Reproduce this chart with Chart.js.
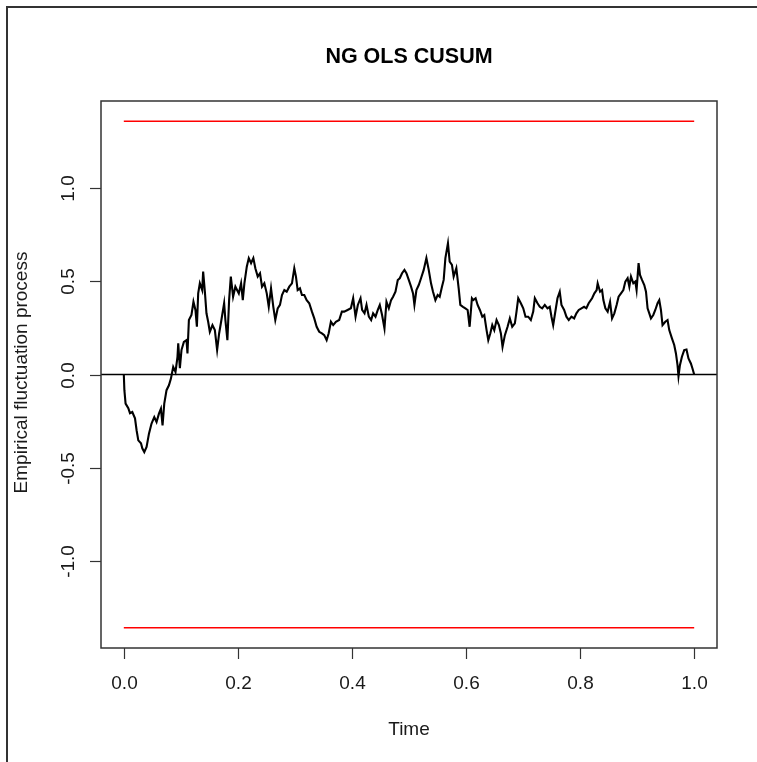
<!DOCTYPE html>
<html>
<head>
<meta charset="utf-8">
<title>NG OLS CUSUM</title>
<script src="https://cdn.jsdelivr.net/npm/chart.js@4/dist/chart.umd.min.js"></script>
<style>
  html, body { margin: 0; padding: 0; background: #ffffff; }
  #wrap { width: 757px; height: 762px; position: relative; }
</style>
</head>
<body>
<div id="wrap"><canvas id="c" width="757" height="762"></canvas></div>
<script>
// OLS-based CUSUM empirical fluctuation process (time scaled to [0, 1])
const timePoints = [
  0.000, 0.001, 0.0031, 0.0079, 0.0108, 0.0149, 0.0196, 0.0224, 0.0254, 0.0301,
  0.0324, 0.0359, 0.0399, 0.0441, 0.0486, 0.0534, 0.0574, 0.0616, 0.0651, 0.0679,
  0.0709, 0.0749, 0.0791, 0.0826, 0.0866, 0.0906, 0.0941, 0.0954, 0.0983, 0.1011,
  0.1053, 0.1099, 0.1116, 0.1141, 0.1186, 0.1221, 0.1256, 0.1281, 0.1304, 0.1333,
  0.1374, 0.1391, 0.1421, 0.1449, 0.1479, 0.1508, 0.1554, 0.1596, 0.1636, 0.1671,
  0.1711, 0.1759, 0.1781, 0.1816, 0.1846, 0.1876, 0.1916, 0.1956, 0.2016, 0.2056,
  0.2086, 0.2114, 0.2156, 0.2191, 0.2231, 0.2271, 0.2306, 0.2348, 0.2388, 0.2423,
  0.2464, 0.2506, 0.2541, 0.2581, 0.2621, 0.2656, 0.2698, 0.2738, 0.2773, 0.2814,
  0.2856, 0.2901, 0.2948, 0.2989, 0.3018, 0.3048, 0.3088, 0.3123, 0.3164, 0.3206,
  0.3251, 0.3298, 0.3339, 0.3381, 0.3426, 0.3473, 0.3514, 0.3556, 0.3591, 0.3631,
  0.3671, 0.3718, 0.3776, 0.3823, 0.3864, 0.3923, 0.3981, 0.4021, 0.4063, 0.4103,
  0.4150, 0.4178, 0.4220, 0.4255, 0.4296, 0.4336, 0.4371, 0.4413, 0.4453, 0.4488,
  0.4528, 0.4570, 0.4605, 0.4646, 0.4686, 0.4721, 0.4763, 0.4803, 0.4838, 0.4878,
  0.4920, 0.4955, 0.4996, 0.5036, 0.5071, 0.5095, 0.5130, 0.5171, 0.5211, 0.5258,
  0.5305, 0.5346, 0.5386, 0.5421, 0.5463, 0.5503, 0.5538, 0.5578, 0.5608, 0.5638,
  0.5683, 0.5713, 0.5753, 0.5783, 0.5830, 0.5871, 0.5900, 0.5946, 0.5988, 0.6028,
  0.6063, 0.6103, 0.6128, 0.6168, 0.6203, 0.6243, 0.6285, 0.6320, 0.6360, 0.6390,
  0.6425, 0.6460, 0.6495, 0.6535, 0.6576, 0.6611, 0.6640, 0.6681, 0.6728, 0.6768,
  0.6810, 0.6856, 0.6885, 0.6915, 0.6961, 0.7003, 0.7043, 0.7090, 0.7136, 0.7178,
  0.7206, 0.7253, 0.7293, 0.7335, 0.7381, 0.7428, 0.7468, 0.7498, 0.7528, 0.7556,
  0.7603, 0.7643, 0.7673, 0.7720, 0.7760, 0.7801, 0.7848, 0.7895, 0.7935, 0.7976,
  0.8023, 0.8070, 0.8110, 0.8150, 0.8210, 0.8250, 0.8290, 0.8308, 0.8350, 0.8385,
  0.8408, 0.8443, 0.8483, 0.8525, 0.8560, 0.8600, 0.8640, 0.8675, 0.8717, 0.8758,
  0.8793, 0.8833, 0.8863, 0.8892, 0.8933, 0.8968, 0.8990, 0.9025, 0.9050, 0.9085,
  0.9125, 0.9155, 0.9183, 0.9213, 0.9242, 0.9283, 0.9318, 0.9358, 0.9388, 0.9417,
  0.9445, 0.9493, 0.9533, 0.9563, 0.9610, 0.9650, 0.9680, 0.9708, 0.9725, 0.9750,
  0.9785, 0.9825, 0.9865, 0.9900, 0.9942, 0.9970, 1.000
];
const processValues = [
  0.000, -0.084, -0.156, -0.181, -0.208, -0.201, -0.235, -0.299, -0.353, -0.369,
  -0.396, -0.416, -0.389, -0.317, -0.263, -0.228, -0.255, -0.210, -0.183, -0.273,
  -0.156, -0.084, -0.058, -0.022, 0.041, 0.014, 0.095, 0.167, 0.034, 0.131,
  0.175, 0.184, 0.113, 0.292, 0.319, 0.390, 0.346, 0.256, 0.435, 0.489,
  0.453, 0.552, 0.444, 0.328, 0.283, 0.229, 0.265, 0.238, 0.131, 0.220,
  0.292, 0.382, 0.292, 0.184, 0.399, 0.525, 0.417, 0.471, 0.435, 0.489,
  0.399, 0.489, 0.578, 0.624, 0.597, 0.624, 0.570, 0.525, 0.543, 0.471,
  0.489, 0.435, 0.363, 0.462, 0.363, 0.292, 0.355, 0.373, 0.426, 0.453,
  0.444, 0.471, 0.489, 0.570, 0.525, 0.453, 0.462, 0.426, 0.426, 0.399,
  0.382, 0.337, 0.301, 0.256, 0.229, 0.220, 0.211, 0.184, 0.220, 0.283,
  0.265, 0.283, 0.292, 0.337, 0.337, 0.346, 0.355, 0.409, 0.310, 0.373,
  0.409, 0.346, 0.328, 0.373, 0.310, 0.292, 0.328, 0.310, 0.346, 0.373,
  0.319, 0.247, 0.390, 0.355, 0.399, 0.417, 0.444, 0.507, 0.516, 0.543,
  0.561, 0.543, 0.507, 0.471, 0.435, 0.373, 0.453, 0.480, 0.516, 0.561,
  0.624, 0.561, 0.489, 0.444, 0.399, 0.426, 0.417, 0.471, 0.507, 0.624,
  0.704, 0.605, 0.588, 0.525, 0.570, 0.462, 0.373, 0.363, 0.355, 0.346,
  0.256, 0.409, 0.399, 0.409, 0.373, 0.346, 0.310, 0.319, 0.238, 0.184,
  0.220, 0.265, 0.238, 0.292, 0.265, 0.220, 0.148, 0.211, 0.256, 0.301,
  0.256, 0.274, 0.337, 0.409, 0.382, 0.355, 0.310, 0.310, 0.292, 0.337,
  0.409, 0.382, 0.363, 0.355, 0.373, 0.355, 0.363, 0.310, 0.265, 0.319,
  0.409, 0.444, 0.373, 0.346, 0.310, 0.292, 0.310, 0.301, 0.328, 0.346,
  0.355, 0.363, 0.355, 0.382, 0.409, 0.435, 0.453, 0.489, 0.444, 0.453,
  0.399, 0.355, 0.337, 0.390, 0.301, 0.328, 0.373, 0.417, 0.435, 0.453,
  0.498, 0.516, 0.471, 0.525, 0.489, 0.498, 0.453, 0.597, 0.534, 0.507,
  0.480, 0.444, 0.355, 0.328, 0.301, 0.319, 0.346, 0.382, 0.399, 0.346,
  0.265, 0.283, 0.292, 0.238, 0.194, 0.158, 0.113, 0.050, -0.009, 0.050,
  0.095, 0.131, 0.134, 0.086, 0.059, 0.032, 0.000
];

// 5% critical boundary for the OLS-CUSUM test, and the axis ranges
const boundaryLevel = 1.358;
const boundarySpan = [0, 1];
const xRange = [-0.04, 1.04];
const yRange = [-1.4666, 1.4666];

// Axis tick labels
const xTicks = [0.0, 0.2, 0.4, 0.6, 0.8, 1.0];
const yTicks = [-1.0, -0.5, 0.0, 0.5, 1.0];

const titleText = 'NG OLS CUSUM';
const xLabel = 'Time';
const yLabel = 'Empirical fluctuation process';

const FONT = '"Liberation Sans", Arial, Helvetica, sans-serif';
const INK = '#333333';

const processData = timePoints.map((t, i) => ({ x: t, y: processValues[i] }));
const upperData = boundarySpan.map(t => ({ x: t, y: boundaryLevel }));
const lowerData = boundarySpan.map(t => ({ x: t, y: -boundaryLevel }));
const zeroData = xRange.map(t => ({ x: t, y: 0 }));

// Draws the outer frame, the plot box, R-style axes and all labels
const basePlotDecor = {
  id: 'basePlotDecor',
  beforeDraw(chart) {
    const ctx = chart.ctx;
    ctx.save();
    ctx.fillStyle = '#ffffff';
    ctx.fillRect(0, 0, chart.width, chart.height);
    ctx.fillStyle = INK;
    ctx.fillRect(6, 6, 2, chart.height - 6);
    ctx.fillRect(6, 6, chart.width - 6, 2);
    ctx.restore();
  },
  afterDraw(chart) {
    const ctx = chart.ctx;
    const a = chart.chartArea;
    const xs = chart.scales.x;
    const ys = chart.scales.y;
    ctx.save();

    // plot box
    ctx.strokeStyle = INK;
    ctx.lineWidth = 1.5;
    ctx.strokeRect(a.left, a.top, a.right - a.left, a.bottom - a.top);

    ctx.fillStyle = '#1a1a1a';
    ctx.font = '19px ' + FONT;

    // x axis ticks
    ctx.lineWidth = 1.2;
    ctx.textAlign = 'center';
    ctx.textBaseline = 'middle';
    xTicks.forEach(v => {
      const px = Math.round(xs.getPixelForValue(v)) + 0.5;
      ctx.beginPath();
      ctx.moveTo(px, a.bottom);
      ctx.lineTo(px, a.bottom + 11);
      ctx.stroke();
      ctx.fillText(v.toFixed(1), px, a.bottom + 36);
    });

    // y axis ticks (labels rotated, R style)
    yTicks.forEach(v => {
      const py = Math.round(ys.getPixelForValue(v)) + 0.5;
      ctx.beginPath();
      ctx.moveTo(a.left - 11, py);
      ctx.lineTo(a.left, py);
      ctx.stroke();
      ctx.save();
      ctx.translate(a.left - 32, py);
      ctx.rotate(-Math.PI / 2);
      ctx.fillText(v.toFixed(1), 0, 0);
      ctx.restore();
    });

    // axis titles
    const cx = (a.left + a.right) / 2;
    const cy = (a.top + a.bottom) / 2;
    ctx.fillText(xLabel, cx, 730);
    ctx.save();
    ctx.translate(22, cy - 2);
    ctx.rotate(-Math.PI / 2);
    ctx.fillText(yLabel, 0, 0);
    ctx.restore();

    // main title
    ctx.font = 'bold 21.5px ' + FONT;
    ctx.fillStyle = '#000000';
    ctx.fillText(titleText, cx, 57);

    ctx.restore();
  }
};

new Chart(document.getElementById('c'), {
  type: 'line',
  data: {
    datasets: [
      { data: zeroData, borderColor: '#000000', borderWidth: 1.3 },
      { data: upperData, borderColor: '#ff0000', borderWidth: 1.5 },
      { data: lowerData, borderColor: '#ff0000', borderWidth: 1.5 },
      { data: processData, borderColor: '#000000', borderWidth: 2.1 }
    ]
  },
  options: {
    responsive: false,
    animation: false,
    devicePixelRatio: 1,
    layout: { padding: { left: 101, top: 101, right: 40, bottom: 114 } },
    elements: {
      point: { radius: 0, hoverRadius: 0 },
      line: { tension: 0, fill: false }
    },
    scales: {
      x: { type: 'linear', min: xRange[0], max: xRange[1], display: false },
      y: { type: 'linear', min: yRange[0], max: yRange[1], display: false }
    },
    plugins: {
      legend: { display: false },
      title: { display: false },
      tooltip: { enabled: false }
    }
  },
  plugins: [basePlotDecor]
});
</script>
</body>
</html>
